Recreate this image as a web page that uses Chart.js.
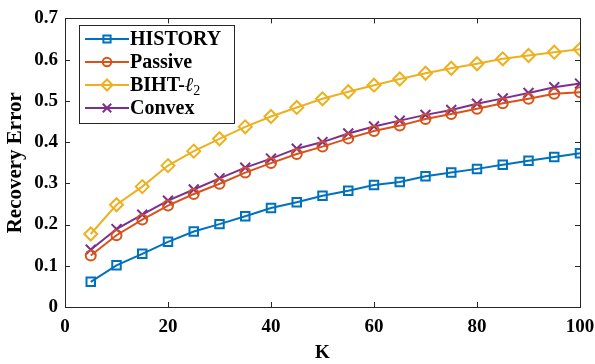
<!DOCTYPE html>
<html>
<head>
<meta charset="utf-8">
<script src="https://cdn.jsdelivr.net/npm/chart.js@4/dist/chart.umd.min.js"></script>
<style>
html,body{margin:0;padding:0;background:#fff;}
#wrap{width:595px;height:364px;position:relative;}
</style>
</head>
<body>
<div id="wrap"><canvas id="c" width="595" height="364"></canvas></div>
<script>
const K = [5,10,15,20,25,30,35,40,45,50,55,60,65,70,75,80,85,90,95,100];
const historyErr = [0.061,0.101,0.129,0.158,0.183,0.201,0.220,0.240,0.254,0.270,0.282,0.296,0.303,0.317,0.326,0.335,0.345,0.355,0.364,0.373];
const passiveErr = [0.125,0.174,0.212,0.246,0.274,0.299,0.326,0.349,0.371,0.389,0.409,0.427,0.440,0.456,0.468,0.481,0.494,0.505,0.517,0.521];
const bihtErr = [0.177,0.248,0.292,0.343,0.378,0.408,0.437,0.462,0.484,0.505,0.522,0.538,0.553,0.567,0.579,0.590,0.602,0.610,0.618,0.625];
const convexErr = [0.139,0.189,0.224,0.258,0.285,0.312,0.338,0.360,0.384,0.400,0.421,0.438,0.452,0.466,0.478,0.493,0.506,0.519,0.533,0.542];
const seriesNames = ['HISTORY','Passive','BIHT-','Convex'];
const xTicks = [0,20,40,60,80,100];
const yTicks = [0,0.1,0.2,0.3,0.4,0.5,0.6,0.7];

const SERIF = "'Liberation Serif','Times New Roman','DejaVu Serif',serif";
const AX = '#262626';

function pts(vals){ return K.map((k,i)=>({x:k,y:vals[i]})); }
function ds(label, vals, color, style, r){
  return {label, data:pts(vals), borderColor:color, backgroundColor:'rgba(0,0,0,0)',
    pointBorderColor:color, pointBackgroundColor:'rgba(0,0,0,0)', pointStyle:style,
    pointRadius:r, pointHoverRadius:r, pointBorderWidth:2, borderWidth:2, tension:0, fill:false};
}

const boxPlugin = {
  id:'boxTicks',
  afterDraw(chart){
    const {ctx, chartArea:a, scales:{x,y}} = chart;
    ctx.save();
    ctx.strokeStyle = AX; ctx.lineWidth = 1;
    ctx.strokeRect(Math.round(a.left)+0.5, Math.round(a.top)+0.5, Math.round(a.right-a.left), Math.round(a.bottom-a.top));
    const L = 5;
    ctx.beginPath();
    xTicks.forEach(v=>{
      const px = Math.round(x.getPixelForValue(v))+0.5;
      ctx.moveTo(px,a.bottom); ctx.lineTo(px,a.bottom-L);
      ctx.moveTo(px,a.top); ctx.lineTo(px,a.top+L);
    });
    yTicks.forEach(v=>{
      const py = Math.round(y.getPixelForValue(v))+0.5;
      ctx.moveTo(a.left,py); ctx.lineTo(a.left+L,py);
      ctx.moveTo(a.right,py); ctx.lineTo(a.right-L,py);
    });
    ctx.stroke();
    ctx.restore();

    // legend
    const bx=79.5, by=25.5, bw=155, bh=98;
    ctx.save();
    ctx.fillStyle='#fff';
    ctx.fillRect(bx,by,bw,bh);
    ctx.strokeStyle=AX; ctx.lineWidth=1;
    ctx.strokeRect(bx,by,bw,bh);
    const rowY=[39,62,85,108];
    chart.data.datasets.forEach((d,i)=>{
      const cy=rowY[i];
      ctx.strokeStyle=d.borderColor; ctx.lineWidth=2;
      ctx.beginPath(); ctx.moveTo(85,cy); ctx.lineTo(129,cy); ctx.stroke();
      ctx.fillStyle='rgba(0,0,0,0)';
      ctx.strokeStyle=d.borderColor;
      ctx.lineWidth=2;
      Chart.helpers.drawPoint(ctx,{pointStyle:d.pointStyle, radius:d.pointRadius*0.85, borderWidth:2}, 107, cy);
      ctx.fillStyle='#000';
      ctx.textBaseline='middle'; ctx.textAlign='left';
      ctx.font='bold 20px '+SERIF;
      ctx.fillText(d.label,130,cy+1);
      if(i===2){
        const w=ctx.measureText(d.label).width;
        ctx.font='italic 20px '+SERIF;
        ctx.fillText('\u2113',130+w,cy+1);
        const w2=ctx.measureText('\u2113').width;
        ctx.font='14px '+SERIF;
        ctx.fillText('2',130+w+w2,cy+6);
      }
    });
    ctx.restore();
  }
};

new Chart(document.getElementById('c'), {
  type:'line',
  data:{datasets:[
    ds(seriesNames[0], historyErr, '#0072BD', 'rect', 6),
    ds(seriesNames[1], passiveErr, '#D95319', 'circle', 5),
    ds(seriesNames[2], bihtErr, '#EDB120', 'rectRot', 6.5),
    ds(seriesNames[3], convexErr, '#7E2F8E', 'crossRot', 7)
  ]},
  options:{
    responsive:false, animation:false, devicePixelRatio:1,
    layout:{padding:{top:12,right:0,left:0,bottom:0}},
    plugins:{legend:{display:false}, tooltip:{enabled:false}},
    scales:{
      x:{type:'linear', min:0, max:100,
        afterBuildTicks(s){ s.ticks = xTicks.map(v=>({value:v})); },
        afterFit(s){ s.height = 57; s.paddingRight = 15; s.paddingLeft = 0; },
        grid:{display:false, drawTicks:false},
        border:{display:false},
        ticks:{color:'#000', padding:9, maxRotation:0, font:{family:SERIF, size:19, weight:'bold'}},
        title:{display:true, text:'K', color:'#000', padding:{top:0,bottom:0}, font:{family:SERIF, size:19, weight:'bold'}}
      },
      y:{type:'linear', min:0, max:0.7,
        afterBuildTicks(s){ s.ticks = yTicks.map(v=>({value:v})); },
        afterFit(s){ s.width = 65; },
        grid:{display:false, drawTicks:false},
        border:{display:false},
        ticks:{color:'#000', padding:7, font:{family:SERIF, size:19, weight:'bold'},
          callback:(v)=>String(Math.round(v*10)/10)},
        title:{display:true, text:'Recovery Error', color:'#000', padding:{top:3,bottom:0}, font:{family:SERIF, size:21, weight:'bold'}}
      }
    }
  },
  plugins:[boxPlugin]
});
</script>
</body>
</html>
